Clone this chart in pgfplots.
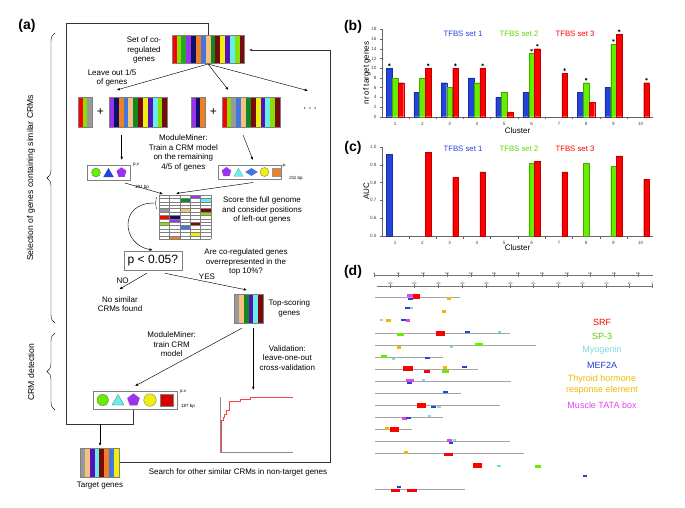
\documentclass[border=0pt]{standalone}
\usepackage{pgfplots}
\pgfplotsset{compat=1.18}
\usepackage{fontspec}
\setmainfont{Liberation Sans}
\usetikzlibrary{shapes.geometric,arrows.meta,decorations.pathreplacing}

\definecolor{cBlue}{HTML}{2244DD}
\definecolor{cGreen}{HTML}{66EE00}
\definecolor{cRed}{HTML}{FF0000}
\definecolor{cLime}{HTML}{88E000}
\definecolor{cMid}{HTML}{22AA22}
\definecolor{cNavy}{HTML}{10106A}
\definecolor{cPurple}{HTML}{9933EE}
\definecolor{cOrange}{HTML}{F08020}
\definecolor{cTan}{HTML}{F5C080}
\definecolor{cDkGreen}{HTML}{118822}
\definecolor{cMaroon}{HTML}{7A0A0A}
\definecolor{cYellow}{HTML}{EEEE10}
\definecolor{cIndigo}{HTML}{5511BB}
\definecolor{cCyan}{HTML}{66EEEE}
\definecolor{cGray}{HTML}{999999}
\definecolor{cSteel}{HTML}{4477DD}
\definecolor{cGold}{HTML}{F0B800}
\definecolor{cTeal}{HTML}{77DDDD}
\definecolor{cMagenta}{HTML}{DD44EE}

% gene stack: left, top, height, colours
\newcommand{\stack}[4]{%
  \foreach \c [count=\i from 0] in {#4}{%
    \fill[\c] ({#1+4.85*\i},#2) rectangle ++(4.85,#3);
    \xdef\stackn{\i}}%
  \draw[gray,line width=0.3pt] (#1,#2) rectangle ++({4.85*(\stackn+1)},#3);}

\pgfplotsset{
  barax/.style={
    scale only axis, anchor=south west, width=271pt,
    xmin=0.52, xmax=10.45,
    axis x line*=bottom, axis y line*=left,
    axis line style={black!60, line width=0.4pt},
    tick style={black!60, line width=0.3pt},
    tick align=outside, major tick length=2pt, minor tick length=2.5pt,
    xtick={1,...,10}, minor xtick={1.5,2.5,...,9.5},
    major x tick style={draw=none},
    /pgf/number format/assume math mode=true,
    tick label style={font=\fontsize{4.6}{5}\selectfont, text=black!75},
    xlabel={Cluster},
    xlabel style={font=\fontsize{8}{9}\selectfont, yshift=5pt},
    ylabel style={font=\fontsize{8}{8}\selectfont, yshift=-6pt},
  },
  bl/.style={ybar, bar width=5.6pt, bar shift=-5.8pt, fill=cBlue, draw=cBlue!70!black, line width=0.2pt},
  gr/.style={ybar, bar width=5.6pt, bar shift=0pt, fill=cGreen, draw=cGreen!70!black, line width=0.2pt},
  rd/.style={ybar, bar width=5.6pt, bar shift=5.8pt, fill=cRed, draw=cRed!75!black, line width=0.2pt},
  star/.style={only marks, mark=asterisk, mark size=1.4pt, black, mark options={line width=0.35pt}},
}

\begin{document}
\begin{tikzpicture}
\begin{scope}[x=1pt,y=-1pt, font=\fontsize{8}{9.4}\selectfont,
  >={Latex[length=3.2pt,width=2.6pt]}, line width=0.45pt]
\path[use as bounding box] (0,0) rectangle (685,507);

% panel letters
\foreach \t/\px/\py in {(a)/27/26, (b)/353/27, (c)/353/148, (d)/353/272}
  \node[font=\fontsize{14}{14}\selectfont\bfseries] at (\px,\py) {\t};

% ---------- panel (a): flowchart ----------
\draw[black!80] (208.3,35) -- (208.3,23.3) -- (66.7,23.3) -- (66.7,424) -- (133.3,424) -- (133.3,409.3);
\draw[->] (100,424) -- (100,446);
\draw[->,black!80] (119.3,462.7) -- (330,462.7) -- (330,50) -- (249,50);

\stack{171.7}{35}{28.3}{cRed,cLime,cMid,cPurple,cNavy,cOrange,cSteel,cTan,cDkGreen,cMaroon,cYellow,cIndigo,cCyan,cLime,cMaroon}
\node[align=center] at (144,50) {Set of co-\\regulated\\genes};
\draw[->] (208,64) -- (116.7,90);
\draw[->] (208,64) -- (228.3,90);
\draw[->] (208,64) -- (308,90.7);
\node[align=center] at (112,78) {Leave out 1/5\\of genes};

\stack{77.7}{96.7}{30}{cRed,cLime,cGray}
\node[font=\fontsize{12}{12}\selectfont] at (100.5,112) {+};
\stack{109}{96.7}{30}{cPurple,cNavy,cOrange,cSteel,cTan,cDkGreen,cMaroon,cYellow,cIndigo,cCyan,cLime,cMaroon}
\stack{190.7}{96.7}{30}{cPurple,cNavy,cOrange}
\node[font=\fontsize{12}{12}\selectfont] at (213.5,112) {+};
\stack{221.7}{96.7}{30}{cRed,cLime,cGray,cSteel,cTan,cDkGreen,cMaroon,cYellow,cIndigo,cCyan,cLime,cMaroon}
\node[font=\fontsize{12}{12}\selectfont] at (310,109) {$\cdots$};

\draw[->] (121.7,135) -- (121.7,160);
\draw[->] (243,135) -- (253,160);
\node[align=center] at (183.3,153) {ModuleMiner:\\Train a CRM model\\on the remaining\\4/5 of genes};

% motif boxes
\draw[gray,line width=0.4pt] (87.3,165) rectangle (130,180);
\node[circle,fill=cGreen,draw=black!60,line width=0.3pt,minimum size=9pt,inner sep=0] at (96,172.5) {};
\node[regular polygon,regular polygon sides=3,fill=cBlue,minimum size=12pt,inner sep=0] at (108.5,174) {};
\node[regular polygon,regular polygon sides=5,fill=cPurple,minimum size=10.5pt,inner sep=0] at (121.5,172.5) {};
\node[font=\fontsize{4.5}{5}\selectfont] at (136,165) {p,v};
\node[font=\fontsize{4.5}{5}\selectfont] at (142,187) {191 bp};

\draw[gray,line width=0.4pt] (218.3,165) rectangle (281,179);
\node[regular polygon,regular polygon sides=5,fill=cPurple,minimum size=10pt,inner sep=0] at (226.5,172) {};
\node[regular polygon,regular polygon sides=3,fill=cCyan,draw=black!40,line width=0.2pt,minimum size=11pt,inner sep=0] at (238.5,173.5) {};
\node[diamond,fill=cSteel,minimum width=13pt,minimum height=8pt,inner sep=0] at (251.5,172) {};
\node[circle,fill=cYellow,draw=black!60,line width=0.3pt,minimum size=9pt,inner sep=0] at (264.5,172) {};
\node[rectangle,fill=cOrange,draw=black!40,line width=0.2pt,minimum size=8.5pt,inner sep=0] at (276,172) {};
\node[font=\fontsize{4.5}{5}\selectfont] at (284,166) {P};
\node[font=\fontsize{4.5}{5}\selectfont] at (296,178) {211 bp};

\draw[->] (125,183) -- (163,194);
\draw[->] (253,182.5) -- (176,193.5);

% score matrix
\foreach \cc/\r/\c in {cDkGreen/1/2, cPurple/0/3, cCyan/1/4, cGray/4/0, cTan/4/2, cMaroon/4/4,
   cLime/5/4, cRed/6/0, cNavy/6/1, cLime/8/0, cPurple/7/1, cSteel/9/2, cMaroon/8/3, cYellow/11/3, cOrange/12/1}
  \fill[\cc] ({159.3+10.3*\c},{195+3.4*\r}) rectangle ++(10.3,3.4);
\foreach \r in {0,...,13} \draw[gray,line width=0.25pt] (159.3,{195+3.4*\r}) -- (210.8,{195+3.4*\r});
\foreach \c in {0,...,5} \draw[gray,line width=0.25pt] ({159.3+10.3*\c},195) -- ({159.3+10.3*\c},239.2);
\node[align=center] at (262,210) {Score the full genome\\and consider positions\\of left-out genes};

\draw[decorate,decoration={brace,amplitude=2pt},line width=0.35pt] (157,209) -- (157,197);
\draw[->] (154,203) .. controls (118,203) and (122,245) .. (152.7,250);

\node[draw=gray,line width=0.4pt,font=\fontsize{12}{12}\selectfont,minimum width=57.7pt,minimum height=19.3pt,inner sep=1pt] at (152.9,260.4) {p < 0.05?};
\node[align=center] at (246,262) {Are co-regulated genes\\overrepresented in the\\top 10\%?};
\node at (122.7,281) {NO};
\node at (207,277) {YES};
\draw[->] (146.7,273.3) -- (119.3,289.3);
\draw[->] (165,273.3) -- (247,290);
\node[align=center] at (120,304) {No similar\\CRMs found};

\stack{234}{294.3}{29}{cGray,cTan,cDkGreen,cIndigo,cCyan,cMaroon}
\node[align=center] at (289.3,308.3) {Top-scoring\\genes};
\draw[->] (241.7,328.3) -- (135,386);
\node[align=center] at (171.7,344.5) {ModuleMiner:\\train CRM\\model};
\draw[->] (253.3,328.3) -- (253.3,390);
\node[align=center] at (287.3,358) {Validation:\\leave-one-out\\cross-validation};

\draw[gray,line width=0.4pt] (92.7,390.7) rectangle (176.7,409.3);
\node[circle,fill=cGreen,draw=black!60,line width=0.3pt,minimum size=11.5pt,inner sep=0] at (102.7,400) {};
\node[regular polygon,regular polygon sides=3,fill=cCyan,draw=black!60,line width=0.3pt,minimum size=14pt,inner sep=0] at (118,401.5) {};
\node[regular polygon,regular polygon sides=5,fill=cPurple,draw=black!40,line width=0.2pt,minimum size=13pt,inner sep=0] at (133.5,400) {};
\node[circle,fill=cYellow,draw=black!60,line width=0.3pt,minimum size=12.5pt,inner sep=0] at (150,400) {};
\node[rectangle,fill=cRed!85!black,draw=black!50,line width=0.3pt,minimum size=12.5pt,inner sep=0] at (166.7,400) {};
\node[font=\fontsize{4.5}{5}\selectfont] at (183,392) {p.v};
\node[font=\fontsize{4.5}{5}\selectfont] at (188,406.7) {187 bp};

\stack{80}{448}{28.7}{cGray,cTan,cIndigo,cCyan,cMaroon,cOrange,cSteel,cYellow}
\node at (100,486) {Target genes};
\node at (238,472) {Search for other similar CRMs in non-target genes};

% braces
\draw[decorate,decoration={brace,amplitude=8pt},line width=0.4pt] (55,323) -- (55,33);
\node[rotate=90,font=\fontsize{8.6}{9}\selectfont] at (31,178) {Selection of genes containing similar CRMs};
\draw[decorate,decoration={brace,amplitude=8pt},line width=0.4pt] (55,410) -- (55,333);
\node[rotate=90,font=\fontsize{8.6}{9}\selectfont] at (31,372) {CRM detection};

% legends of (b) (c)
\foreach \py in {34,149}{
  \node[text=cBlue,font=\fontsize{7.8}{8}\selectfont] at (463,\py) {TFBS set 1};
  \node[text=cGreen!90!black,font=\fontsize{7.8}{8}\selectfont] at (519,\py) {TFBS set 2};
  \node[text=cRed,font=\fontsize{7.8}{8}\selectfont] at (575,\py) {TFBS set 3};}

% legend of (d)
\node[text=cRed,font=\fontsize{9}{10}\selectfont] at (602,322) {SRF};
\node[text=cGreen!85!black,font=\fontsize{9}{10}\selectfont] at (602,336) {SP-3};
\node[text=cTeal,font=\fontsize{9}{10}\selectfont] at (602,350) {Myogenin};
\node[text=cBlue!90!black,font=\fontsize{9}{10}\selectfont] at (602,365) {MEF2A};
\node[text=cGold,font=\fontsize{9}{11}\selectfont,align=center] at (602,385) {Thyroid hormone\\response element};
\node[text=cMagenta,font=\fontsize{9}{10}\selectfont] at (602,405) {Muscle TATA box};
\end{scope}

% ---------- panel (b) ----------
\begin{axis}[barax, at={(382pt,-116.7pt)}, height=87.4pt,
  ymin=0, ymax=18, ytick={0,2,...,18}, ylabel={nr of target genes}, clip=false]
\addplot[bl] coordinates {(1,10) (2,5) (3,7) (4,8) (5,4) (6,5) (8,5) (9,6)};
\addplot[gr] coordinates {(1,8) (2,8) (3,6) (4,7) (5,5) (6,13) (8,7) (9,15)};
\addplot[rd] coordinates {(1,7) (2,10) (3,10) (4,10) (5,1) (6,14) (7,9) (8,3) (9,17) (10,7)};
% significance stars, set above the starred bars
\addplot[star] coordinates {(0.79,10.7)
  (6,13.7) (8,7.7) (9,15.7)
  (2.21,10.7) (3.21,10.7) (4.21,10.7) (6.21,14.7) (7.21,9.7) (9.21,17.7) (10.21,7.7)};
\end{axis}

% ---------- panel (c) ----------
\begin{axis}[barax, at={(382pt,-236pt)}, height=89pt,
  ymin=0.5, ymax=1.0, ytick={0.5,0.6,...,1.0},
  yticklabel style={/pgf/number format/.cd, fixed, fixed zerofill, precision=1},
  ylabel={AUC}, xlabel style={yshift=2pt}]
\addplot[bl] coordinates {(1,0.96)};
\addplot[gr] coordinates {(6,0.91) (8,0.91) (9,0.89)};
\addplot[rd] coordinates {(2,0.97) (3,0.83) (4,0.86) (6,0.92) (7,0.86) (9,0.95) (10,0.82)};
\end{axis}

% ---------- validation curve in (a) ----------
\begin{axis}[at={(220pt,-451.7pt)}, anchor=south west, scale only axis,
  width=73.3pt, height=55pt, xmin=0, xmax=1, ymin=0, ymax=1,
  axis x line*=bottom, axis y line*=left, ticks=none,
  axis line style={black!45, line width=0.4pt}]
\addplot[red!75, const plot, line width=0.4pt] coordinates {
  (0.01,0) (0.01,0.58) (0.04,0.62) (0.06,0.68) (0.09,0.76) (0.13,0.91) (0.27,0.95) (0.41,1.0) (1.0,1.0)};
\end{axis}

% ---------- panel (d) ----------
\begin{axis}[at={(360pt,-500pt)}, anchor=south west, scale only axis,
  width=325pt, height=235pt, xmin=360, xmax=685, ymin=265, ymax=500,
  y dir=reverse, hide axis, clip=false, unbounded coords=jump]
% rulers
\addplot[black!55, line width=0.4pt] coordinates {(374,275) (653,275)};
\addplot[black!55, line width=0.4pt] coordinates {(377,286) (653,286)};
\addplot[black!55, only marks, mark=|, mark size=1.6pt, mark options={line width=0.3pt},
  nodes near coords, point meta=explicit symbolic,
  every node near coord/.style={font=\fontsize{2.6}{3}\selectfont, text=black!70, anchor=south, inner sep=0.6pt}]
  coordinates {(374,275)[1] (398,275)[50] (423,275)[100] (447,275)[150] (471,275)[200] (494,275)[250]
    (518,275)[300] (542,275)[350] (567,275)[400] (590,275)[450] (614,275)[500] (638,275)[550]};
\addplot[black!55, only marks, mark=|, mark size=1.6pt, mark options={line width=0.3pt},
  nodes near coords, point meta=explicit symbolic,
  every node near coord/.style={font=\fontsize{2.6}{3}\selectfont, text=black!70, anchor=south, inner sep=1.6pt}]
  coordinates {(390,286)[-550] (414,286)[-500] (438,286)[-450] (462,286)[-400] (486,286)[-350] (510,286)[-300]
    (533,286)[-250] (558,286)[-200] (582,286)[-150] (606,286)[-100] (629,286)[-50] (652,286)[0]};
% gene lines
\addplot[black!35, line width=0.7pt] coordinates {
  (375,297) (460,297) (375,nan) (375,333) (510,333) (375,nan) (375,345) (536,345) (375,nan)
  (375,357.7) (443,357.7) (375,nan) (375,369) (478,369) (375,nan) (375,381) (511,381) (375,nan)
  (375,393) (461,393) (375,nan) (375,405.7) (500,405.7) (375,nan) (375,417.3) (443,417.3) (375,nan)
  (375,429.3) (412,429.3) (375,nan) (375,441.3) (510,441.3) (375,nan) (375,453.3) (524,453.3) (375,nan)
  (375,489.3) (465,489.3)};
% Muscle TATA box
\addplot[cMagenta, line width=3pt] coordinates {
  (407,295) (414,295) (0,nan) (406,320) (409.5,320) (0,nan) (406,380) (414,380) (0,nan)
  (402,418) (407,418) (0,nan) (447,440) (452,440)};
% SRF, large sites
\addplot[cRed, line width=5pt] coordinates {
  (413,296) (419.5,296) (0,nan) (436,333) (445,333) (0,nan) (403,368) (413,368) (0,nan)
  (417,405) (426,405) (0,nan) (390,429) (399,429) (0,nan) (473,465) (482,465)};
% SRF, small sites
\addplot[cRed, line width=3pt] coordinates {
  (424,371) (430,371) (0,nan) (444,454) (453,454) (0,nan) (391,490) (400,490) (0,nan) (407,490) (417,490)};
% MEF2A
\addplot[cBlue, line width=2.8pt] coordinates {
  (408,299) (413,299) (0,nan) (405,308) (410,308) (0,nan) (401,320) (406,320) (0,nan)
  (465,332) (470,332) (0,nan) (425,358) (430,358) (0,nan) (462,367) (467,367) (0,nan)
  (407,383) (412,383) (0,nan) (443,392) (448,392) (0,nan) (431,407) (436,407) (0,nan)
  (406,418) (411,418) (0,nan) (449,443) (453,443) (0,nan) (583,476) (587,476) (0,nan)
  (397,487) (401,487)};
% SP-3
\addplot[cGreen, line width=3pt] coordinates {
  (397,334) (404,334) (0,nan) (475,344) (483,344) (0,nan) (381,356) (387,356) (0,nan)
  (442,371) (449,371) (0,nan) (535,466) (541,466)};
% Myogenin
\addplot[cTeal, line width=2.8pt] coordinates {
  (410,308) (412.5,308) (0,nan) (380,320) (383,320) (0,nan) (498,332) (501,332) (0,nan)
  (450,347) (453,347) (0,nan) (392,359) (395,359) (0,nan) (422,380) (425,380) (0,nan)
  (437,407) (441,407) (0,nan) (428,416) (431,416) (0,nan) (453,440) (456,440) (0,nan)
  (497,466) (501,466)};
% Thyroid hormone response element
\addplot[cGold, line width=3pt] coordinates {
  (447,298) (451,298) (0,nan) (442,311) (446,311) (0,nan) (386,320) (391,320) (0,nan)
  (397,347) (401,347) (0,nan) (443,367) (447,367) (0,nan) (385,428) (389,428) (0,nan)
  (404,452) (408,452)};
\end{axis}
\end{tikzpicture}
\end{document}
